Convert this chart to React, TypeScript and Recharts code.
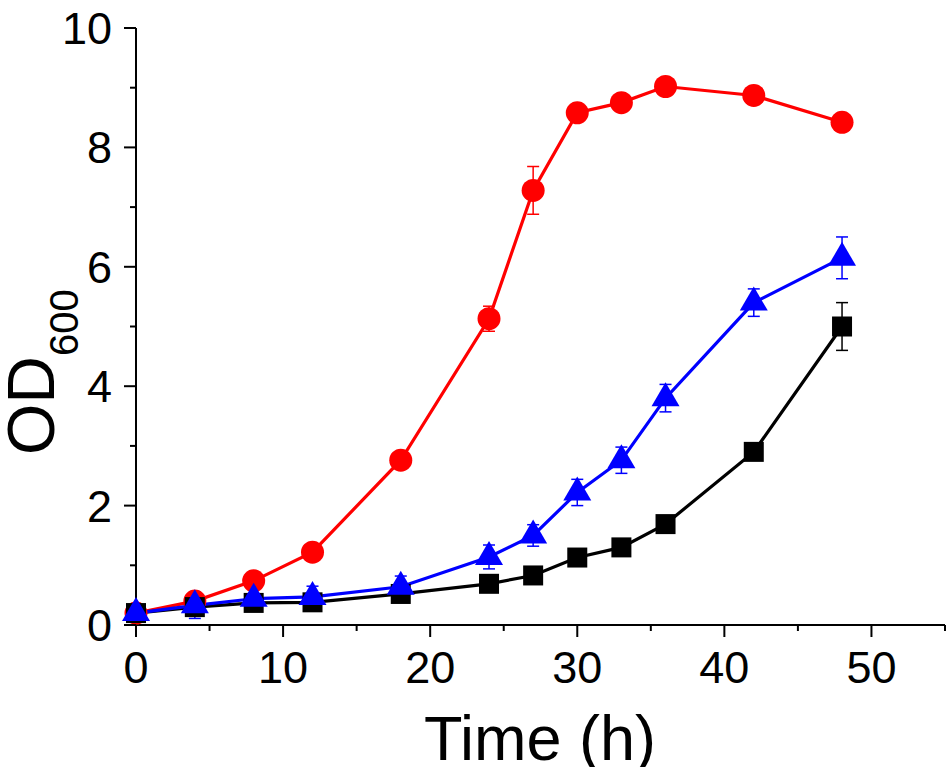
import React from 'react';
import { LineChart, Line, XAxis, YAxis, ErrorBar } from 'recharts';

const time = [0, 4, 8, 12, 18, 24, 27, 30, 33, 36, 42, 48];
const redValues = [0.2, 0.4, 0.74, 1.22, 2.76, 5.13, 7.28, 8.58, 8.75, 9.02, 8.87, 8.42];
const redErrors = [0.05, 0.08, 0.06, 0.06, 0.06, 0.21, 0.4, 0.06, 0.06, 0.08, 0.15, 0.1];
const blueValues = [0.2, 0.33, 0.44, 0.47, 0.64, 1.14, 1.5, 2.22, 2.76, 3.8, 5.4, 6.15];
const blueErrors = [0.05, 0.22, 0.2, 0.18, 0.18, 0.2, 0.18, 0.22, 0.22, 0.23, 0.23, 0.35];
const blackValues = [0.2, 0.3, 0.37, 0.38, 0.52, 0.69, 0.83, 1.13, 1.3, 1.69, 2.9, 5.0];
const blackErrors = [0.05, 0.05, 0.05, 0.05, 0.05, 0.05, 0.05, 0.05, 0.05, 0.05, 0.05, 0.4];

const xTicks = [0, 5, 10, 15, 20, 25, 30, 35, 40, 45, 50, 55];
const yTicks = [0, 1, 2, 3, 4, 5, 6, 7, 8, 9, 10];

const rows = time.map((t, i) => ({
  t,
  red: redValues[i],
  redErr: redErrors[i],
  blue: blueValues[i],
  blueErr: blueErrors[i],
  black: blackValues[i],
  blackErr: blackErrors[i],
}));

const FONT = '"Liberation Sans", Arial, sans-serif';

const XTick = (props: any) => {
  const { x, y, payload } = props;
  const v = payload.value;
  const major = v % 10 === 0;
  return (
    <g>
      <line x1={x} x2={x} y1={y} y2={y + (major ? 12 : 6)} stroke="#000" strokeWidth={2} />
      {major && (
        <text x={x} y={y + 58} textAnchor="middle" fontSize={45} fontFamily={FONT} fill="#000">
          {v}
        </text>
      )}
    </g>
  );
};

const YTick = (props: any) => {
  const { x, y, payload } = props;
  const v = payload.value;
  const major = v % 2 === 0;
  return (
    <g>
      <line x1={x - (major ? 12 : 6)} x2={x} y1={y} y2={y} stroke="#000" strokeWidth={2} />
      {major && (
        <text x={x - 24} y={y + 16} textAnchor="end" fontSize={45} fontFamily={FONT} fill="#000">
          {v}
        </text>
      )}
    </g>
  );
};

const CircleDot = (p: any) => (
  <circle key={`c${p.index}`} cx={p.cx} cy={p.cy} r={11.5} fill="#FF0000" />
);
const SquareDot = (p: any) => (
  <rect key={`s${p.index}`} x={p.cx - 10} y={p.cy - 10} width={20} height={20} fill="#000" />
);
const TriDot = (p: any) => {
  const w = 28;
  const h = 24;
  const pts = `${p.cx},${p.cy - (2 * h) / 3} ${p.cx - w / 2},${p.cy + h / 3} ${p.cx + w / 2},${p.cy + h / 3}`;
  return <polygon key={`t${p.index}`} points={pts} fill="#0000FF" />;
};

export default function App() {
  return (
    <div style={{ position: 'absolute', left: 0, top: 0, width: 950, height: 767, background: '#fff' }}>
      <LineChart
        width={950}
        height={767}
        data={rows}
        margin={{ top: 28, right: 5, left: 0, bottom: 0 }}
      >
        <XAxis
          dataKey="t"
          type="number"
          domain={[0, 55]}
          ticks={xTicks}
          interval={0}
          height={142}
          tickSize={0}
          tickMargin={0}
          tickLine={false}
          axisLine={{ stroke: '#000', strokeWidth: 2 }}
          tick={<XTick />}
        />
        <YAxis
          type="number"
          domain={[0, 10]}
          ticks={yTicks}
          interval={0}
          width={136}
          tickSize={0}
          tickMargin={0}
          tickLine={false}
          axisLine={{ stroke: '#000', strokeWidth: 2 }}
          tick={<YTick />}
        />
        <Line
          dataKey="red"
          stroke="#FF0000"
          strokeWidth={3.2}
          dot={CircleDot}
          activeDot={false}
          isAnimationActive={false}
        >
          <ErrorBar dataKey="redErr" width={6} stroke="#FF0000" strokeWidth={1.5} isAnimationActive={false} />
        </Line>
        <Line
          dataKey="black"
          stroke="#000000"
          strokeWidth={3.2}
          dot={SquareDot}
          activeDot={false}
          isAnimationActive={false}
        >
          <ErrorBar dataKey="blackErr" width={6} stroke="#000000" strokeWidth={1.5} isAnimationActive={false} />
        </Line>
        <Line
          dataKey="blue"
          stroke="#0000FF"
          strokeWidth={3.2}
          dot={TriDot}
          activeDot={false}
          isAnimationActive={false}
        >
          <ErrorBar dataKey="blueErr" width={6} stroke="#0000FF" strokeWidth={1.5} isAnimationActive={false} />
        </Line>
      </LineChart>
      <svg
        width={950}
        height={767}
        style={{ position: 'absolute', left: 0, top: 0, pointerEvents: 'none' }}
      >
        <text
          transform="translate(54,455) rotate(-90)"
          x={0}
          y={0}
          fontSize={66}
          fontFamily={FONT}
          fill="#000"
        >
          OD
          <tspan fontSize={40} dy={24}>600</tspan>
        </text>
        <text x={540} y={760} textAnchor="middle" fontSize={63} fontFamily={FONT} fill="#000">
          Time (h)
        </text>
      </svg>
    </div>
  );
}
